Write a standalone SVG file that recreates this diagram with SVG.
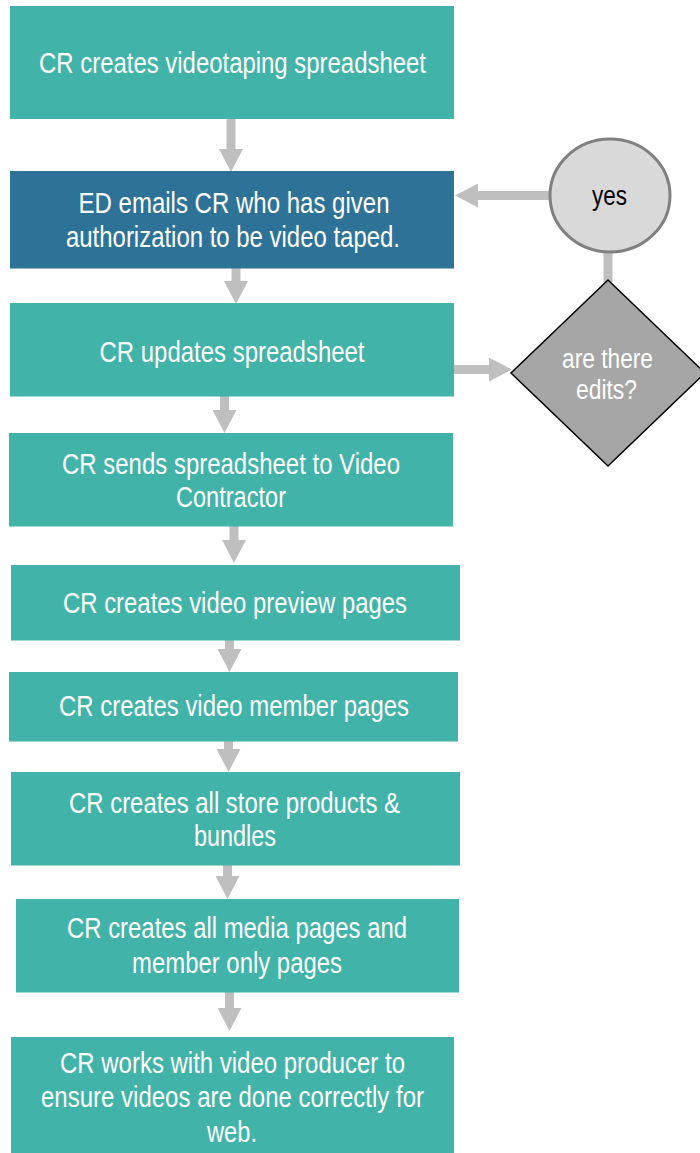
<svg xmlns="http://www.w3.org/2000/svg" width="700" height="1153" viewBox="0 0 700 1153">
<style>
.box{fill:#41B3A9}
.blue{fill:#2E7397}
.t{font-family:"Liberation Sans Narrow","Liberation Sans","Arial Narrow",sans-serif;font-size:29px;fill:#FFFFFF;text-anchor:middle}
.k{font-family:"Liberation Sans Narrow","Liberation Sans","Arial Narrow",sans-serif;font-size:27px;text-anchor:middle}
.c{stroke:#BFBFBF;stroke-width:9;fill:none}
</style>
<defs>
<marker id="ah" viewBox="0 -12 23 24" refX="0" refY="0" markerWidth="23" markerHeight="24" markerUnits="userSpaceOnUse" orient="auto">
<path d="M0,-12 L23,0 L0,12 Z" fill="#BFBFBF"/>
</marker>
</defs>
<rect width="700" height="1153" fill="#FFFFFF"/>
<g id="connectors">
<line class="c" x1="231" y1="119" x2="231" y2="149" marker-end="url(#ah)"/>
<line class="c" x1="236" y1="268" x2="236" y2="281" marker-end="url(#ah)"/>
<line class="c" x1="224.5" y1="396" x2="224.5" y2="410" marker-end="url(#ah)"/>
<line class="c" x1="234" y1="526" x2="234" y2="540" marker-end="url(#ah)"/>
<line class="c" x1="229.5" y1="640" x2="229.5" y2="649" marker-end="url(#ah)"/>
<line class="c" x1="228.5" y1="741" x2="228.5" y2="749" marker-end="url(#ah)"/>
<line class="c" x1="227.5" y1="865" x2="227.5" y2="876" marker-end="url(#ah)"/>
<line class="c" x1="229.5" y1="992" x2="229.5" y2="1008" marker-end="url(#ah)"/>
<line class="c" x1="454" y1="369.5" x2="489" y2="369.5" stroke-width="8" marker-end="url(#ah)"/>
<line class="c" x1="550" y1="195.5" x2="478" y2="195.5" stroke-width="8" marker-end="url(#ah)"/>
<line class="c" x1="608" y1="252" x2="608" y2="282" stroke-width="8"/>
</g>
<g id="n1">
<rect class="box" x="10" y="6" width="444" height="113"/>
<text class="t" x="232.5" y="72.5" textLength="387" lengthAdjust="spacingAndGlyphs">CR creates videotaping spreadsheet</text>
</g>
<g id="n2">
<rect class="blue" x="10" y="171" width="444" height="97.5"/>
<text class="t" x="234" y="213" textLength="311" lengthAdjust="spacingAndGlyphs">ED emails CR who has given</text>
<text class="t" x="233" y="246.5" textLength="334" lengthAdjust="spacingAndGlyphs">authorization to be video taped.</text>
</g>
<g id="n3">
<rect class="box" x="10" y="303" width="444" height="93.5"/>
<text class="t" x="232" y="361.5" textLength="265" lengthAdjust="spacingAndGlyphs">CR updates spreadsheet</text>
</g>
<g id="n4">
<rect class="box" x="9" y="433" width="444" height="93.5"/>
<text class="t" x="231" y="474" textLength="338" lengthAdjust="spacingAndGlyphs">CR sends spreadsheet to Video</text>
<text class="t" x="231" y="506.5" textLength="110" lengthAdjust="spacingAndGlyphs">Contractor</text>
</g>
<g id="n5">
<rect class="box" x="11" y="565" width="449" height="75.5"/>
<text class="t" x="235" y="613" textLength="344" lengthAdjust="spacingAndGlyphs">CR creates video preview pages</text>
</g>
<g id="n6">
<rect class="box" x="9" y="672" width="449" height="69.5"/>
<text class="t" x="234" y="715.5" textLength="350" lengthAdjust="spacingAndGlyphs">CR creates video member pages</text>
</g>
<g id="n7">
<rect class="box" x="11" y="772" width="449" height="93.5"/>
<text class="t" x="234.5" y="812.5" textLength="331" lengthAdjust="spacingAndGlyphs">CR creates all store products &amp;</text>
<text class="t" x="235" y="845.5" textLength="82" lengthAdjust="spacingAndGlyphs">bundles</text>
</g>
<g id="n8">
<rect class="box" x="16" y="899" width="443" height="93.5"/>
<text class="t" x="237" y="938" textLength="340" lengthAdjust="spacingAndGlyphs">CR creates all media pages and</text>
<text class="t" x="237" y="972.5" textLength="210" lengthAdjust="spacingAndGlyphs">member only pages</text>
</g>
<g id="n9">
<rect class="box" x="11" y="1037" width="443" height="116"/>
<text class="t" x="232.5" y="1073" textLength="345" lengthAdjust="spacingAndGlyphs">CR works with video producer to</text>
<text class="t" x="232.5" y="1107" textLength="383" lengthAdjust="spacingAndGlyphs">ensure videos are done correctly for</text>
<text class="t" x="232" y="1141.5" textLength="50" lengthAdjust="spacingAndGlyphs">web.</text>
</g>
<g id="yes">
<ellipse cx="610" cy="195.5" rx="60" ry="56.5" fill="#D9D9D9" stroke="#808080" stroke-width="3"/>
<text class="k" x="609.5" y="205" fill="#000000" textLength="35" lengthAdjust="spacingAndGlyphs">yes</text>
</g>
<g id="edits">
<polygon points="608,280 705,373 608,466 511,373" fill="#A6A6A6" stroke="#000000" stroke-width="1.5"/>
<text class="k" x="607.5" y="367.5" fill="#FFFFFF" textLength="91" lengthAdjust="spacingAndGlyphs">are there</text>
<text class="k" x="606.5" y="398.5" fill="#FFFFFF" textLength="61" lengthAdjust="spacingAndGlyphs">edits?</text>
</g>
</svg>
